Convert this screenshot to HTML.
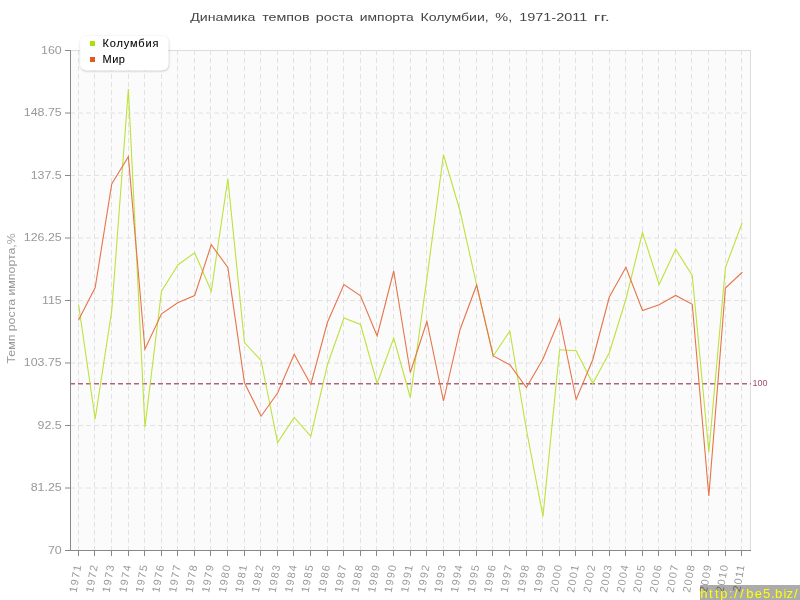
<!DOCTYPE html>
<html><head><meta charset="utf-8">
<style>
html,body{margin:0;padding:0;background:#fff;width:800px;height:600px;overflow:hidden;}
svg{display:block;position:absolute;left:0;top:0;will-change:transform;}
text{font-family:"Liberation Sans",sans-serif;}
#wm{position:absolute;left:700px;top:585px;width:100px;height:15px;background:rgba(0,0,0,0.33);overflow:hidden;}
#wm span{position:absolute;top:1.2px;font-family:"Liberation Sans",sans-serif;font-size:13px;line-height:15px;color:#ffff00;white-space:nowrap;}
</style></head><body>
<svg width="800" height="600" viewBox="0 0 800 600">

<rect x="70" y="50" width="680" height="500" fill="#fbfbfb"/>
<line x1="70" y1="488.0" x2="750" y2="488.0" stroke="#e2e2e2" stroke-width="1" stroke-dasharray="5,3"/>
<line x1="70" y1="425.5" x2="750" y2="425.5" stroke="#e2e2e2" stroke-width="1" stroke-dasharray="5,3"/>
<line x1="70" y1="363.0" x2="750" y2="363.0" stroke="#e2e2e2" stroke-width="1" stroke-dasharray="5,3"/>
<line x1="70" y1="300.5" x2="750" y2="300.5" stroke="#e2e2e2" stroke-width="1" stroke-dasharray="5,3"/>
<line x1="70" y1="238.0" x2="750" y2="238.0" stroke="#e2e2e2" stroke-width="1" stroke-dasharray="5,3"/>
<line x1="70" y1="175.5" x2="750" y2="175.5" stroke="#e2e2e2" stroke-width="1" stroke-dasharray="5,3"/>
<line x1="70" y1="113.0" x2="750" y2="113.0" stroke="#e2e2e2" stroke-width="1" stroke-dasharray="5,3"/>
<line x1="78.5" y1="50" x2="78.5" y2="550" stroke="#e2e2e2" stroke-width="1" stroke-dasharray="5,3"/>
<line x1="94.5" y1="50" x2="94.5" y2="550" stroke="#e2e2e2" stroke-width="1" stroke-dasharray="5,3"/>
<line x1="111.5" y1="50" x2="111.5" y2="550" stroke="#e2e2e2" stroke-width="1" stroke-dasharray="5,3"/>
<line x1="128.5" y1="50" x2="128.5" y2="550" stroke="#e2e2e2" stroke-width="1" stroke-dasharray="5,3"/>
<line x1="144.5" y1="50" x2="144.5" y2="550" stroke="#e2e2e2" stroke-width="1" stroke-dasharray="5,3"/>
<line x1="161.5" y1="50" x2="161.5" y2="550" stroke="#e2e2e2" stroke-width="1" stroke-dasharray="5,3"/>
<line x1="177.5" y1="50" x2="177.5" y2="550" stroke="#e2e2e2" stroke-width="1" stroke-dasharray="5,3"/>
<line x1="194.5" y1="50" x2="194.5" y2="550" stroke="#e2e2e2" stroke-width="1" stroke-dasharray="5,3"/>
<line x1="210.5" y1="50" x2="210.5" y2="550" stroke="#e2e2e2" stroke-width="1" stroke-dasharray="5,3"/>
<line x1="227.5" y1="50" x2="227.5" y2="550" stroke="#e2e2e2" stroke-width="1" stroke-dasharray="5,3"/>
<line x1="244.5" y1="50" x2="244.5" y2="550" stroke="#e2e2e2" stroke-width="1" stroke-dasharray="5,3"/>
<line x1="260.5" y1="50" x2="260.5" y2="550" stroke="#e2e2e2" stroke-width="1" stroke-dasharray="5,3"/>
<line x1="277.5" y1="50" x2="277.5" y2="550" stroke="#e2e2e2" stroke-width="1" stroke-dasharray="5,3"/>
<line x1="293.5" y1="50" x2="293.5" y2="550" stroke="#e2e2e2" stroke-width="1" stroke-dasharray="5,3"/>
<line x1="310.5" y1="50" x2="310.5" y2="550" stroke="#e2e2e2" stroke-width="1" stroke-dasharray="5,3"/>
<line x1="327.5" y1="50" x2="327.5" y2="550" stroke="#e2e2e2" stroke-width="1" stroke-dasharray="5,3"/>
<line x1="343.5" y1="50" x2="343.5" y2="550" stroke="#e2e2e2" stroke-width="1" stroke-dasharray="5,3"/>
<line x1="360.5" y1="50" x2="360.5" y2="550" stroke="#e2e2e2" stroke-width="1" stroke-dasharray="5,3"/>
<line x1="376.5" y1="50" x2="376.5" y2="550" stroke="#e2e2e2" stroke-width="1" stroke-dasharray="5,3"/>
<line x1="393.5" y1="50" x2="393.5" y2="550" stroke="#e2e2e2" stroke-width="1" stroke-dasharray="5,3"/>
<line x1="410.5" y1="50" x2="410.5" y2="550" stroke="#e2e2e2" stroke-width="1" stroke-dasharray="5,3"/>
<line x1="426.5" y1="50" x2="426.5" y2="550" stroke="#e2e2e2" stroke-width="1" stroke-dasharray="5,3"/>
<line x1="443.5" y1="50" x2="443.5" y2="550" stroke="#e2e2e2" stroke-width="1" stroke-dasharray="5,3"/>
<line x1="459.5" y1="50" x2="459.5" y2="550" stroke="#e2e2e2" stroke-width="1" stroke-dasharray="5,3"/>
<line x1="476.5" y1="50" x2="476.5" y2="550" stroke="#e2e2e2" stroke-width="1" stroke-dasharray="5,3"/>
<line x1="492.5" y1="50" x2="492.5" y2="550" stroke="#e2e2e2" stroke-width="1" stroke-dasharray="5,3"/>
<line x1="509.5" y1="50" x2="509.5" y2="550" stroke="#e2e2e2" stroke-width="1" stroke-dasharray="5,3"/>
<line x1="526.5" y1="50" x2="526.5" y2="550" stroke="#e2e2e2" stroke-width="1" stroke-dasharray="5,3"/>
<line x1="542.5" y1="50" x2="542.5" y2="550" stroke="#e2e2e2" stroke-width="1" stroke-dasharray="5,3"/>
<line x1="559.5" y1="50" x2="559.5" y2="550" stroke="#e2e2e2" stroke-width="1" stroke-dasharray="5,3"/>
<line x1="575.5" y1="50" x2="575.5" y2="550" stroke="#e2e2e2" stroke-width="1" stroke-dasharray="5,3"/>
<line x1="592.5" y1="50" x2="592.5" y2="550" stroke="#e2e2e2" stroke-width="1" stroke-dasharray="5,3"/>
<line x1="609.5" y1="50" x2="609.5" y2="550" stroke="#e2e2e2" stroke-width="1" stroke-dasharray="5,3"/>
<line x1="625.5" y1="50" x2="625.5" y2="550" stroke="#e2e2e2" stroke-width="1" stroke-dasharray="5,3"/>
<line x1="642.5" y1="50" x2="642.5" y2="550" stroke="#e2e2e2" stroke-width="1" stroke-dasharray="5,3"/>
<line x1="658.5" y1="50" x2="658.5" y2="550" stroke="#e2e2e2" stroke-width="1" stroke-dasharray="5,3"/>
<line x1="675.5" y1="50" x2="675.5" y2="550" stroke="#e2e2e2" stroke-width="1" stroke-dasharray="5,3"/>
<line x1="691.5" y1="50" x2="691.5" y2="550" stroke="#e2e2e2" stroke-width="1" stroke-dasharray="5,3"/>
<line x1="708.5" y1="50" x2="708.5" y2="550" stroke="#e2e2e2" stroke-width="1" stroke-dasharray="5,3"/>
<line x1="725.5" y1="50" x2="725.5" y2="550" stroke="#e2e2e2" stroke-width="1" stroke-dasharray="5,3"/>
<line x1="741.5" y1="50" x2="741.5" y2="550" stroke="#e2e2e2" stroke-width="1" stroke-dasharray="5,3"/>
<line x1="70" y1="50.5" x2="751" y2="50.5" stroke="#dcdcdc" stroke-width="1"/>
<line x1="750.5" y1="50" x2="750.5" y2="550" stroke="#dcdcdc" stroke-width="1"/>
<line x1="70" y1="383.78" x2="751" y2="383.78" stroke="#b0647a" stroke-width="1.6" stroke-dasharray="5,3"/>
<text x="752.6" y="385.9" font-size="9" fill="#a0506a">100</text>
<polyline points="78.59,304.75 95.18,419.00 111.76,310.50 128.35,89.00 144.93,427.00 161.52,291.25 178.10,264.75 194.69,252.75 211.28,291.25 227.86,178.75 244.45,342.50 261.03,360.50 277.62,442.50 294.20,417.50 310.79,436.25 327.37,365.00 343.96,318.00 360.54,324.50 377.13,383.50 393.71,338.00 410.30,397.50 426.89,278.50 443.47,154.75 460.06,211.00 476.64,285.00 493.23,356.00 509.81,331.00 526.40,429.50 542.98,516.50 559.57,349.75 576.15,350.75 592.74,383.50 609.32,352.75 625.91,299.25 642.50,232.50 659.08,284.50 675.67,249.25 692.25,275.50 708.84,452.00 725.42,267.50 742.01,223.25" fill="none" stroke="#bde23c" stroke-width="1.1" stroke-linejoin="miter" stroke-linecap="round"/>
<polyline points="78.59,320.00 95.18,287.50 111.76,184.00 128.35,156.75 144.93,349.25 161.52,313.75 178.10,302.50 194.69,295.50 211.28,244.75 227.86,267.50 244.45,382.75 261.03,416.25 277.62,393.00 294.20,354.25 310.79,384.50 327.37,322.50 343.96,284.50 360.54,295.75 377.13,336.00 393.71,271.00 410.30,372.50 426.89,321.50 443.47,401.00 460.06,329.50 476.64,285.00 493.23,356.00 509.81,364.75 526.40,387.50 542.98,359.00 559.57,318.75 576.15,399.50 592.74,359.75 609.32,297.00 625.91,267.25 642.50,310.50 659.08,304.75 675.67,295.50 692.25,304.25 708.84,496.00 725.42,288.00 742.01,272.50" fill="none" stroke="#e6744a" stroke-width="1.1" stroke-linejoin="miter" stroke-linecap="round"/>
<line x1="70.5" y1="50" x2="70.5" y2="551" stroke="#888" stroke-width="1"/>
<line x1="65" y1="550.5" x2="751" y2="550.5" stroke="#888" stroke-width="1"/>
<line x1="65" y1="550.5" x2="70" y2="550.5" stroke="#888" stroke-width="1"/>
<text transform="translate(61.7,553.9) scale(1.1,1)" font-size="11.3" fill="#999" text-anchor="end">70</text>
<line x1="65" y1="488.0" x2="70" y2="488.0" stroke="#888" stroke-width="1"/>
<text transform="translate(61.7,491.4) scale(1.1,1)" font-size="11.3" fill="#999" text-anchor="end">81.25</text>
<line x1="65" y1="425.5" x2="70" y2="425.5" stroke="#888" stroke-width="1"/>
<text transform="translate(61.7,428.9) scale(1.1,1)" font-size="11.3" fill="#999" text-anchor="end">92.5</text>
<line x1="65" y1="363.0" x2="70" y2="363.0" stroke="#888" stroke-width="1"/>
<text transform="translate(61.7,366.4) scale(1.1,1)" font-size="11.3" fill="#999" text-anchor="end">103.75</text>
<line x1="65" y1="300.5" x2="70" y2="300.5" stroke="#888" stroke-width="1"/>
<text transform="translate(61.7,303.9) scale(1.1,1)" font-size="11.3" fill="#999" text-anchor="end">115</text>
<line x1="65" y1="238.0" x2="70" y2="238.0" stroke="#888" stroke-width="1"/>
<text transform="translate(61.7,241.4) scale(1.1,1)" font-size="11.3" fill="#999" text-anchor="end">126.25</text>
<line x1="65" y1="175.5" x2="70" y2="175.5" stroke="#888" stroke-width="1"/>
<text transform="translate(61.7,178.9) scale(1.1,1)" font-size="11.3" fill="#999" text-anchor="end">137.5</text>
<line x1="65" y1="113.0" x2="70" y2="113.0" stroke="#888" stroke-width="1"/>
<text transform="translate(61.7,116.4) scale(1.1,1)" font-size="11.3" fill="#999" text-anchor="end">148.75</text>
<line x1="65" y1="50.5" x2="70" y2="50.5" stroke="#888" stroke-width="1"/>
<text transform="translate(61.7,53.9) scale(1.1,1)" font-size="11.3" fill="#999" text-anchor="end">160</text>
<line x1="78.5" y1="551" x2="78.5" y2="556" stroke="#888" stroke-width="1"/>
<text transform="translate(81.39,564.6) rotate(-80)" font-size="10.8" letter-spacing="1.2" fill="#9a9a9a" text-anchor="end">1971</text>
<line x1="94.5" y1="551" x2="94.5" y2="556" stroke="#888" stroke-width="1"/>
<text transform="translate(97.98,564.6) rotate(-80)" font-size="10.8" letter-spacing="1.2" fill="#9a9a9a" text-anchor="end">1972</text>
<line x1="111.5" y1="551" x2="111.5" y2="556" stroke="#888" stroke-width="1"/>
<text transform="translate(114.56,564.6) rotate(-80)" font-size="10.8" letter-spacing="1.2" fill="#9a9a9a" text-anchor="end">1973</text>
<line x1="128.5" y1="551" x2="128.5" y2="556" stroke="#888" stroke-width="1"/>
<text transform="translate(131.15,564.6) rotate(-80)" font-size="10.8" letter-spacing="1.2" fill="#9a9a9a" text-anchor="end">1974</text>
<line x1="144.5" y1="551" x2="144.5" y2="556" stroke="#888" stroke-width="1"/>
<text transform="translate(147.73,564.6) rotate(-80)" font-size="10.8" letter-spacing="1.2" fill="#9a9a9a" text-anchor="end">1975</text>
<line x1="161.5" y1="551" x2="161.5" y2="556" stroke="#888" stroke-width="1"/>
<text transform="translate(164.32,564.6) rotate(-80)" font-size="10.8" letter-spacing="1.2" fill="#9a9a9a" text-anchor="end">1976</text>
<line x1="177.5" y1="551" x2="177.5" y2="556" stroke="#888" stroke-width="1"/>
<text transform="translate(180.90,564.6) rotate(-80)" font-size="10.8" letter-spacing="1.2" fill="#9a9a9a" text-anchor="end">1977</text>
<line x1="194.5" y1="551" x2="194.5" y2="556" stroke="#888" stroke-width="1"/>
<text transform="translate(197.49,564.6) rotate(-80)" font-size="10.8" letter-spacing="1.2" fill="#9a9a9a" text-anchor="end">1978</text>
<line x1="210.5" y1="551" x2="210.5" y2="556" stroke="#888" stroke-width="1"/>
<text transform="translate(214.08,564.6) rotate(-80)" font-size="10.8" letter-spacing="1.2" fill="#9a9a9a" text-anchor="end">1979</text>
<line x1="227.5" y1="551" x2="227.5" y2="556" stroke="#888" stroke-width="1"/>
<text transform="translate(230.66,564.6) rotate(-80)" font-size="10.8" letter-spacing="1.2" fill="#9a9a9a" text-anchor="end">1980</text>
<line x1="244.5" y1="551" x2="244.5" y2="556" stroke="#888" stroke-width="1"/>
<text transform="translate(247.25,564.6) rotate(-80)" font-size="10.8" letter-spacing="1.2" fill="#9a9a9a" text-anchor="end">1981</text>
<line x1="260.5" y1="551" x2="260.5" y2="556" stroke="#888" stroke-width="1"/>
<text transform="translate(263.83,564.6) rotate(-80)" font-size="10.8" letter-spacing="1.2" fill="#9a9a9a" text-anchor="end">1982</text>
<line x1="277.5" y1="551" x2="277.5" y2="556" stroke="#888" stroke-width="1"/>
<text transform="translate(280.42,564.6) rotate(-80)" font-size="10.8" letter-spacing="1.2" fill="#9a9a9a" text-anchor="end">1983</text>
<line x1="293.5" y1="551" x2="293.5" y2="556" stroke="#888" stroke-width="1"/>
<text transform="translate(297.00,564.6) rotate(-80)" font-size="10.8" letter-spacing="1.2" fill="#9a9a9a" text-anchor="end">1984</text>
<line x1="310.5" y1="551" x2="310.5" y2="556" stroke="#888" stroke-width="1"/>
<text transform="translate(313.59,564.6) rotate(-80)" font-size="10.8" letter-spacing="1.2" fill="#9a9a9a" text-anchor="end">1985</text>
<line x1="327.5" y1="551" x2="327.5" y2="556" stroke="#888" stroke-width="1"/>
<text transform="translate(330.17,564.6) rotate(-80)" font-size="10.8" letter-spacing="1.2" fill="#9a9a9a" text-anchor="end">1986</text>
<line x1="343.5" y1="551" x2="343.5" y2="556" stroke="#888" stroke-width="1"/>
<text transform="translate(346.76,564.6) rotate(-80)" font-size="10.8" letter-spacing="1.2" fill="#9a9a9a" text-anchor="end">1987</text>
<line x1="360.5" y1="551" x2="360.5" y2="556" stroke="#888" stroke-width="1"/>
<text transform="translate(363.34,564.6) rotate(-80)" font-size="10.8" letter-spacing="1.2" fill="#9a9a9a" text-anchor="end">1988</text>
<line x1="376.5" y1="551" x2="376.5" y2="556" stroke="#888" stroke-width="1"/>
<text transform="translate(379.93,564.6) rotate(-80)" font-size="10.8" letter-spacing="1.2" fill="#9a9a9a" text-anchor="end">1989</text>
<line x1="393.5" y1="551" x2="393.5" y2="556" stroke="#888" stroke-width="1"/>
<text transform="translate(396.51,564.6) rotate(-80)" font-size="10.8" letter-spacing="1.2" fill="#9a9a9a" text-anchor="end">1990</text>
<line x1="410.5" y1="551" x2="410.5" y2="556" stroke="#888" stroke-width="1"/>
<text transform="translate(413.10,564.6) rotate(-80)" font-size="10.8" letter-spacing="1.2" fill="#9a9a9a" text-anchor="end">1991</text>
<line x1="426.5" y1="551" x2="426.5" y2="556" stroke="#888" stroke-width="1"/>
<text transform="translate(429.69,564.6) rotate(-80)" font-size="10.8" letter-spacing="1.2" fill="#9a9a9a" text-anchor="end">1992</text>
<line x1="443.5" y1="551" x2="443.5" y2="556" stroke="#888" stroke-width="1"/>
<text transform="translate(446.27,564.6) rotate(-80)" font-size="10.8" letter-spacing="1.2" fill="#9a9a9a" text-anchor="end">1993</text>
<line x1="459.5" y1="551" x2="459.5" y2="556" stroke="#888" stroke-width="1"/>
<text transform="translate(462.86,564.6) rotate(-80)" font-size="10.8" letter-spacing="1.2" fill="#9a9a9a" text-anchor="end">1994</text>
<line x1="476.5" y1="551" x2="476.5" y2="556" stroke="#888" stroke-width="1"/>
<text transform="translate(479.44,564.6) rotate(-80)" font-size="10.8" letter-spacing="1.2" fill="#9a9a9a" text-anchor="end">1995</text>
<line x1="492.5" y1="551" x2="492.5" y2="556" stroke="#888" stroke-width="1"/>
<text transform="translate(496.03,564.6) rotate(-80)" font-size="10.8" letter-spacing="1.2" fill="#9a9a9a" text-anchor="end">1996</text>
<line x1="509.5" y1="551" x2="509.5" y2="556" stroke="#888" stroke-width="1"/>
<text transform="translate(512.61,564.6) rotate(-80)" font-size="10.8" letter-spacing="1.2" fill="#9a9a9a" text-anchor="end">1997</text>
<line x1="526.5" y1="551" x2="526.5" y2="556" stroke="#888" stroke-width="1"/>
<text transform="translate(529.20,564.6) rotate(-80)" font-size="10.8" letter-spacing="1.2" fill="#9a9a9a" text-anchor="end">1998</text>
<line x1="542.5" y1="551" x2="542.5" y2="556" stroke="#888" stroke-width="1"/>
<text transform="translate(545.78,564.6) rotate(-80)" font-size="10.8" letter-spacing="1.2" fill="#9a9a9a" text-anchor="end">1999</text>
<line x1="559.5" y1="551" x2="559.5" y2="556" stroke="#888" stroke-width="1"/>
<text transform="translate(562.37,564.6) rotate(-80)" font-size="10.8" letter-spacing="1.2" fill="#9a9a9a" text-anchor="end">2000</text>
<line x1="575.5" y1="551" x2="575.5" y2="556" stroke="#888" stroke-width="1"/>
<text transform="translate(578.95,564.6) rotate(-80)" font-size="10.8" letter-spacing="1.2" fill="#9a9a9a" text-anchor="end">2001</text>
<line x1="592.5" y1="551" x2="592.5" y2="556" stroke="#888" stroke-width="1"/>
<text transform="translate(595.54,564.6) rotate(-80)" font-size="10.8" letter-spacing="1.2" fill="#9a9a9a" text-anchor="end">2002</text>
<line x1="609.5" y1="551" x2="609.5" y2="556" stroke="#888" stroke-width="1"/>
<text transform="translate(612.12,564.6) rotate(-80)" font-size="10.8" letter-spacing="1.2" fill="#9a9a9a" text-anchor="end">2003</text>
<line x1="625.5" y1="551" x2="625.5" y2="556" stroke="#888" stroke-width="1"/>
<text transform="translate(628.71,564.6) rotate(-80)" font-size="10.8" letter-spacing="1.2" fill="#9a9a9a" text-anchor="end">2004</text>
<line x1="642.5" y1="551" x2="642.5" y2="556" stroke="#888" stroke-width="1"/>
<text transform="translate(645.30,564.6) rotate(-80)" font-size="10.8" letter-spacing="1.2" fill="#9a9a9a" text-anchor="end">2005</text>
<line x1="658.5" y1="551" x2="658.5" y2="556" stroke="#888" stroke-width="1"/>
<text transform="translate(661.88,564.6) rotate(-80)" font-size="10.8" letter-spacing="1.2" fill="#9a9a9a" text-anchor="end">2006</text>
<line x1="675.5" y1="551" x2="675.5" y2="556" stroke="#888" stroke-width="1"/>
<text transform="translate(678.47,564.6) rotate(-80)" font-size="10.8" letter-spacing="1.2" fill="#9a9a9a" text-anchor="end">2007</text>
<line x1="691.5" y1="551" x2="691.5" y2="556" stroke="#888" stroke-width="1"/>
<text transform="translate(695.05,564.6) rotate(-80)" font-size="10.8" letter-spacing="1.2" fill="#9a9a9a" text-anchor="end">2008</text>
<line x1="708.5" y1="551" x2="708.5" y2="556" stroke="#888" stroke-width="1"/>
<text transform="translate(711.64,564.6) rotate(-80)" font-size="10.8" letter-spacing="1.2" fill="#9a9a9a" text-anchor="end">2009</text>
<line x1="725.5" y1="551" x2="725.5" y2="556" stroke="#888" stroke-width="1"/>
<text transform="translate(728.22,564.6) rotate(-80)" font-size="10.8" letter-spacing="1.2" fill="#9a9a9a" text-anchor="end">2010</text>
<line x1="741.5" y1="551" x2="741.5" y2="556" stroke="#888" stroke-width="1"/>
<text transform="translate(744.81,564.6) rotate(-80)" font-size="10.8" letter-spacing="1.2" fill="#9a9a9a" text-anchor="end">2011</text>
<text transform="translate(14.5,298.4) rotate(-90) scale(1.075,1)" font-size="11.5" fill="#999" text-anchor="middle">Темп роста импорта,%</text>
<text x="190.20" y="21.2" font-size="11.4" fill="#454545" textLength="65.30" lengthAdjust="spacingAndGlyphs">Динамика</text>
<text x="262.20" y="21.2" font-size="11.4" fill="#454545" textLength="47.50" lengthAdjust="spacingAndGlyphs">темпов</text>
<text x="315.70" y="21.2" font-size="11.4" fill="#454545" textLength="37.50" lengthAdjust="spacingAndGlyphs">роста</text>
<text x="359.80" y="21.2" font-size="11.4" fill="#454545" textLength="53.95" lengthAdjust="spacingAndGlyphs">импорта</text>
<text x="420.60" y="21.2" font-size="11.4" fill="#454545" textLength="68.20" lengthAdjust="spacingAndGlyphs">Колумбии,</text>
<text x="495.30" y="21.2" font-size="11.4" fill="#454545" textLength="16.90" lengthAdjust="spacingAndGlyphs">%,</text>
<text x="519.20" y="21.2" font-size="11.4" fill="#454545" textLength="68.10" lengthAdjust="spacingAndGlyphs">1971-2011</text>
<text x="593.80" y="21.2" font-size="11.4" fill="#454545" textLength="16.00" lengthAdjust="spacingAndGlyphs">гг.</text>
<defs><filter id="sh" x="-20%" y="-30%" width="140%" height="160%"><feDropShadow dx="0.3" dy="0.8" stdDeviation="1" flood-color="#000" flood-opacity="0.26"/></filter></defs>
<rect x="80.3" y="36" width="88" height="34.2" rx="6" ry="6" fill="#fff" filter="url(#sh)"/>
<rect x="90" y="41" width="5" height="5" fill="#b0de09"/>
<rect x="90" y="57" width="5" height="5" fill="#e05a20"/>
<text x="102.5" y="47" font-size="11" letter-spacing="0.85" fill="#000" stroke="#000" stroke-width="0.08">Колумбия</text>
<text x="102.5" y="62.5" font-size="11" letter-spacing="0.5" fill="#000" stroke="#000" stroke-width="0.08">Мир</text>
</svg>
<div id="wm"><span style="left:0.20px">h</span><span style="left:9.00px">t</span><span style="left:15.00px">t</span><span style="left:20.20px">p</span><span style="left:28.90px">:</span><span style="left:34.00px">/</span><span style="left:40.00px">/</span><span style="left:46.30px">b</span><span style="left:54.80px">e</span><span style="left:63.10px">5</span><span style="left:70.90px">.</span><span style="left:75.10px">b</span><span style="left:83.55px">i</span><span style="left:86.55px">z</span><span style="left:94.00px">/</span></div>
</body></html>
